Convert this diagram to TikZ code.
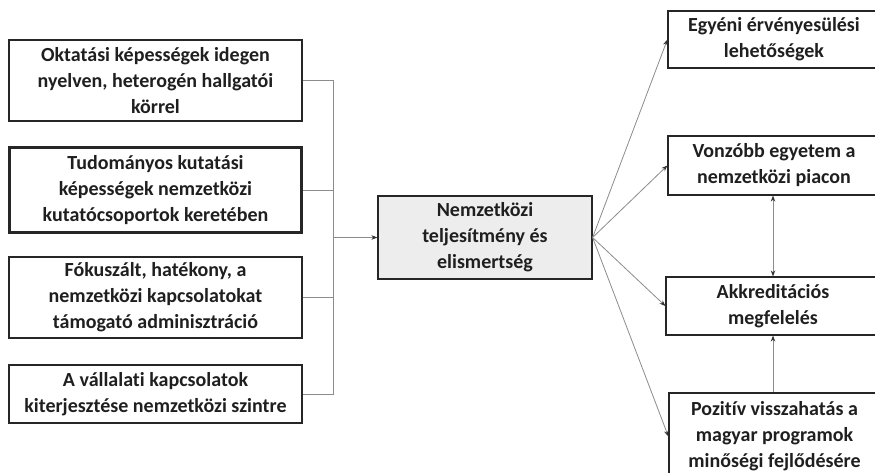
\documentclass[tikz,border=0pt]{standalone}
\usepackage{fontspec}
\setmainfont{Carlito}[RawFeature=-liga]
\usetikzlibrary{arrows.meta}
\definecolor{boxline}{HTML}{262626}
\definecolor{connline}{HTML}{8C8C8C}
\definecolor{centerfill}{HTML}{EDEDED}
\tikzset{
  box/.style={draw=boxline, line width=1.2pt, fill=white, align=center, inner sep=0pt,
    font=\bfseries\fontsize{20}{26}\selectfont, text=black!88},
  conn/.style={draw=connline, line width=0.8pt},
  tip/.style={-{Stealth[length=6pt,width=4.5pt,black!80]}},
  tips/.style={{Stealth[length=6pt,width=4.5pt,black!80]}-{Stealth[length=6pt,width=4.5pt,black!80]}}
}
\begin{document}
\begin{tikzpicture}[x=1pt,y=-1pt]
\useasboundingbox (0,0) rectangle (875,472);
\fill[white] (0,0) rectangle (875,472);
% left boxes
\node[box, minimum width=293pt, minimum height=81pt] (b1) at (155.5,80.5)
  {Oktatási képességek idegen\\nyelven, heterogén hallgatói\\körrel};
\node[box, line width=2.8pt, minimum width=292pt, minimum height=85pt] (b2) at (155.5,190)
  {Tudományos kutatási\\képességek nemzetközi\\kutatócsoportok keretében};
\node[box, minimum width=293pt, minimum height=81pt] (b3) at (155.5,297.5)
  {Fókuszált, hatékony, a\\nemzetközi kapcsolatokat\\támogató adminisztráció};
\node[box, minimum width=293pt, minimum height=58pt] (b4) at (155.5,394)
  {A vállalati kapcsolatok\\kiterjesztése nemzetközi szintre};
% center
\node[box, fill=centerfill, minimum width=214pt, minimum height=83pt] (c) at (485,237.5)
  {Nemzetközi\\teljesítmény és\\elismertség};
% right boxes
\node[box, minimum width=212pt, minimum height=57pt] (ra) at (774,39.5)
  {Egyéni érvényesülési\\lehetőségek};
\node[box, minimum width=212pt, minimum height=59pt] (rb) at (774,165.5)
  {Vonzóbb egyetem a\\nemzetközi piacon};
\node[box, minimum width=214pt, minimum height=58pt] (rc) at (773,306)
  {Akkreditációs\\megfelelés};
\node[box, minimum width=211pt, minimum height=87pt] (rd) at (774.5,436.5)
  {Pozitív visszahatás a\\magyar programok\\minőségi fejlődésére};
% bus
\coordinate (bx) at (333,0);
\coordinate (vx) at (773,0);
\draw[conn] (b1.east) -- (b1.east -| bx) -- (b4.east -| bx) -- (b4.east);
\draw[conn] (b2.east) -- (b2.east -| bx);
\draw[conn] (b3.east) -- (b3.east -| bx);
\draw[conn, tip] (c.west -| bx) -- (c.west);
% right arrows
\draw[conn, tip] (c.east) -- (ra.west);
\draw[conn, tip] (c.east) -- (rb.west);
\draw[conn, tip] (c.east) -- (rc.west);
\draw[conn, tip] (c.east) -- (rd.west);
\draw[conn, tips] (rb.south -| vx) -- (rc.north -| vx);
\draw[conn, tip] (rd.north -| vx) -- (rc.south -| vx);
\end{tikzpicture}
\end{document}
